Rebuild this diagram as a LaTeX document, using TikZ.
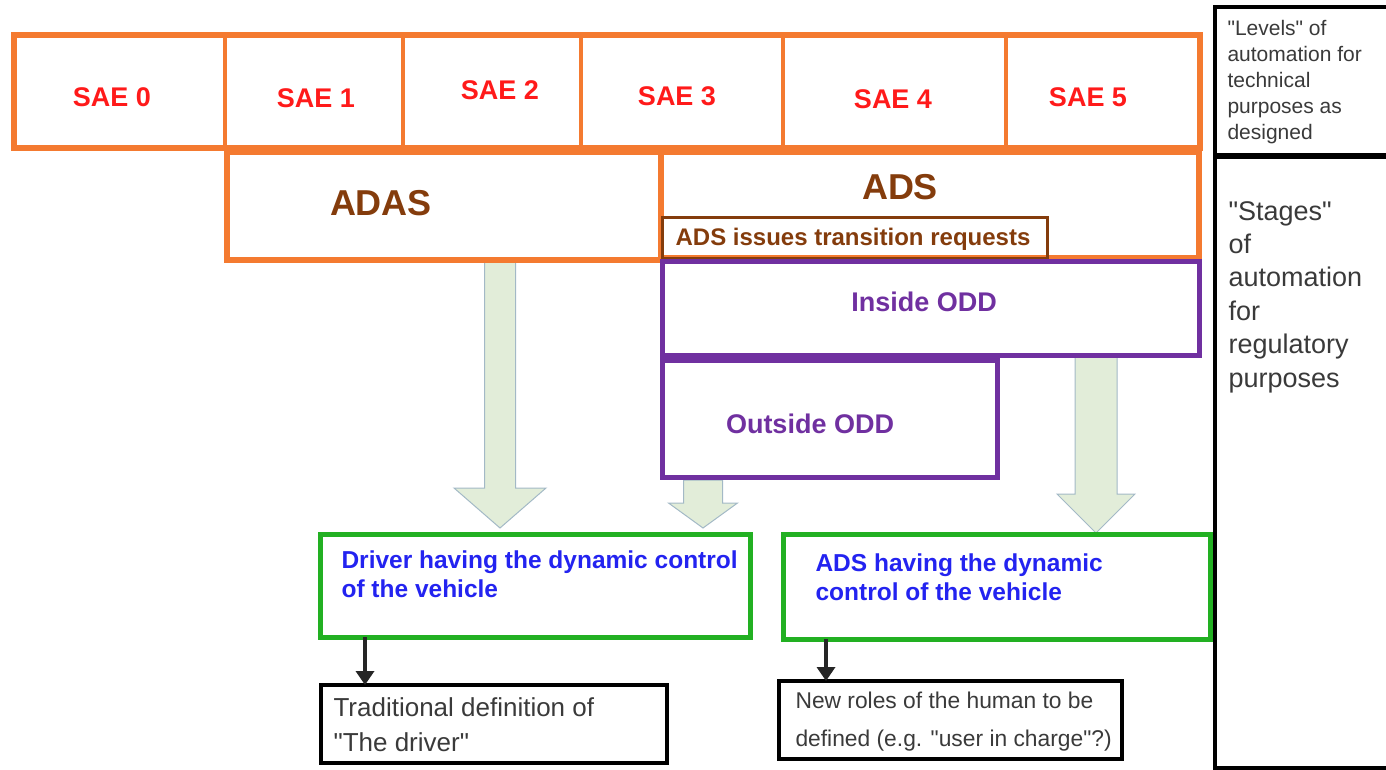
\documentclass[tikz,border=0pt]{standalone}
\usepackage{fontspec}
\setmainfont{Liberation Sans}
\usetikzlibrary{arrows.meta}

\definecolor{saeorange}{HTML}{F47A30}
\definecolor{saered}{HTML}{FF1A1A}
\definecolor{adsbrown}{HTML}{843C0C}
\definecolor{oddpurple}{HTML}{7030A0}
\definecolor{ctrlgreen}{HTML}{22B022}
\definecolor{ctrlblue}{HTML}{2323F0}
\definecolor{arrowfill}{HTML}{E2EDD9}
\definecolor{arrowline}{HTML}{A3B9C6}
\definecolor{notegray}{HTML}{3A3A3A}

\tikzset{
  frame/.style={draw, inner sep=0pt, outer sep=0pt, anchor=north west},
  saecell/.style={frame, saeorange, line width=3.5pt},
  saeframe/.style={frame, saeorange, line width=5.5pt},
  oddframe/.style={frame, oddpurple, line width=5pt},
  ctrlframe/.style={frame, ctrlgreen, line width=5pt},
  noteframe/.style={frame, black, line width=3.5pt},
  sideframe/.style={frame, black, line width=4pt},
  saelabel/.style={text=saered, font=\fontsize{27}{30}\selectfont\bfseries},
  syslabel/.style={text=adsbrown, font=\fontsize{36}{40}\selectfont\bfseries},
  oddlabel/.style={text=oddpurple, font=\fontsize{27}{30}\selectfont\bfseries},
  ctrllabel/.style={text=ctrlblue, anchor=west, align=left, font=\fontsize{24.5}{28.5}\selectfont\bfseries},
  notelabel/.style={text=notegray, anchor=west, align=left},
  bigarrow/.style={fill=arrowfill, draw=arrowline, line width=1pt, line join=miter},
  smallarrow/.style={line width=4pt, draw=black!85, -{Triangle[length=14pt,width=18pt]}}
}

\begin{document}
\begin{tikzpicture}[x=1pt,y=-1pt]
\clip (0,0) rectangle (1386,770);

\def\blockarrow#1#2#3#4#5#6{% x, top, tip, half shaft, half head, head length
  \draw[bigarrow] (#1-#4,#2) -- (#1+#4,#2) -- (#1+#4,#3-#6) -- (#1+#5,#3-#6)
    -- (#1,#3) -- (#1-#5,#3-#6) -- (#1-#4,#3-#6) -- cycle;}

% block arrows go under the frames
\blockarrow{500}{262}{528}{15.5}{46}{40}
\blockarrow{703}{480}{528}{19.5}{34.5}{25}
\blockarrow{1096}{354}{533}{21}{39}{39}

% SAE levels
\node[saecell, minimum width=211, minimum height=113] (sae0) at (14,35) {};
\node[saecell, minimum width=178, minimum height=113] (sae1) at (225,35) {};
\node[saecell, minimum width=178, minimum height=113] (sae2) at (403,35) {};
\node[saecell, minimum width=202, minimum height=113] (sae3) at (581,35) {};
\node[saecell, minimum width=223, minimum height=113] (sae4) at (783,35) {};
\node[saecell, minimum width=194, minimum height=113] (sae5) at (1006,35) {};
\node[saeframe, minimum width=1186, minimum height=113] (saerow) at (14,35) {};
\node[saelabel] (lbl0) at (112,97) {SAE 0};
\node[saelabel] (lbl1) at (316,98) {SAE 1};
\node[saelabel] (lbl2) at (500,90) {SAE 2};
\node[saelabel] (lbl3) at (677,96) {SAE 3};
\node[saelabel] (lbl4) at (893,99) {SAE 4};
\node[saelabel] (lbl5) at (1088,97) {SAE 5};

% ADAS / ADS
\node[saeframe, minimum width=434, minimum height=108] (adas) at (227,152) {};
\node[saeframe, minimum width=538, minimum height=106] (ads) at (661,152) {};
\node[syslabel] (adaslbl) at (381,203) {ADAS};
\node[syslabel] (adslbl) at (900,187) {ADS};
\node[frame, adsbrown, line width=3pt, minimum width=385, minimum height=41] (request) at (662,217) {};
\node[text=adsbrown, font=\fontsize{24}{27}\selectfont\bfseries] (requestlbl) at (853,239) {ADS issues transition requests};

% ODD
\node[oddframe, minimum width=537, minimum height=94] (inodd) at (662,261) {};
\node[oddframe, minimum width=335, minimum height=117] (outodd) at (662,360) {};
\node[oddlabel] (inoddlbl) at (924,302) {Inside ODD};
\node[oddlabel] (outoddlbl) at (810,424) {Outside ODD};

% dynamic control
\node[ctrlframe, minimum width=430, minimum height=103] (drvctrl) at (320,534) {};
\node[ctrlframe, minimum width=427, minimum height=105] (adsctrl) at (783,534) {};
\node[ctrllabel] (drvctrllbl) at (338,574) {Driver having the dynamic control\\of the vehicle};
\node[ctrllabel] (adsctrllbl) at (812,577) {ADS having the dynamic\\control of the vehicle};

% roles of the human
\node[noteframe, minimum width=346, minimum height=78] (tradnote) at (321,685) {};
\node[noteframe, minimum width=343, minimum height=78] (newroles) at (779,681) {};
\node[notelabel, font=\fontsize{26}{35}\selectfont] (tradlbl) at (330,725)
  {Traditional definition of\\\textquotedbl The driver\textquotedbl};
\node[notelabel, font=\fontsize{22.8}{38}\selectfont] (newlbl) at (792,722)
  {New roles of the human to be\\defined (e.g. \textquotedbl user in charge\textquotedbl ?)};

\coordinate (drvfoot) at ([xshift=45]drvctrl.south west);
\coordinate (adsfoot) at ([xshift=43]adsctrl.south west);
\draw[smallarrow] (drvfoot) -- (drvfoot |- tradnote.north);
\draw[smallarrow] (adsfoot) -- (adsfoot |- newroles.north);

% levels and stages
\node[sideframe, minimum width=200, minimum height=148] (levels) at (1215,7) {};
\node[sideframe, minimum width=200, minimum height=611] (stages) at (1215,157) {};
\node[text=notegray, anchor=west, align=left, font=\fontsize{21}{26}\selectfont] (levelslbl) at (1224,82)
  {\textquotedbl Levels\textquotedbl\ of\\automation for\\technical\\purposes as\\designed};
\node[text=notegray, anchor=west, align=left, font=\fontsize{27}{33.4}\selectfont] (stageslbl) at (1225,297)
  {\textquotedbl Stages\textquotedbl\\of\\automation\\for\\regulatory\\purposes};

\end{tikzpicture}
\end{document}
